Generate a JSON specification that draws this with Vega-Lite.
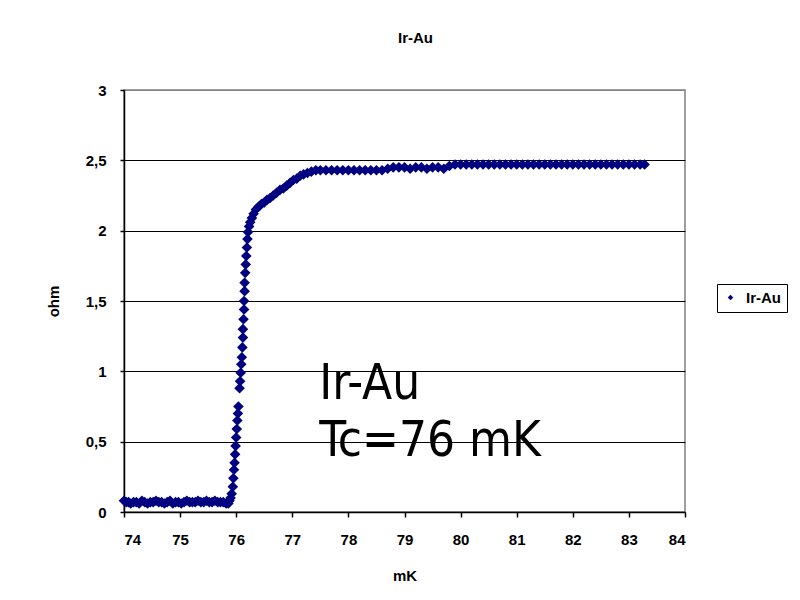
{
  "$schema": "https://vega.github.io/schema/vega-lite/v6.json",
  "width": 561,
  "height": 422,
  "autosize": {"type": "none"},
  "padding": {"left": 124, "top": 90, "right": 115, "bottom": 88},
  "background": "white",
  "title": {"text": "Ir-Au", "font": "Liberation Sans", "fontSize": 15, "fontWeight": "bold", "color": "black", "anchor": "middle", "offset": 37, "dx": 11},
  "config": {
    "view": {"stroke": "#808080", "strokeWidth": 1.5},
    "axis": {
      "labelFont": "Liberation Sans", "labelFontSize": 15, "labelFontWeight": "bold", "labelColor": "black",
      "titleFont": "Liberation Sans", "titleFontSize": 15, "titleFontWeight": "bold", "titleColor": "black",
      "domainColor": "black", "domainWidth": 1.5, "tickColor": "black", "tickWidth": 1.5
    }
  },
  "layer": [
    {
      "data": {"values": [
        {"T": 74.00, "R": 0.08, "s": "Ir-Au"}, {"T": 74.04, "R": 0.07, "s": "Ir-Au"}, {"T": 74.08, "R": 0.07, "s": "Ir-Au"}, {"T": 74.12, "R": 0.06, "s": "Ir-Au"},
        {"T": 74.17, "R": 0.07, "s": "Ir-Au"}, {"T": 74.22, "R": 0.07, "s": "Ir-Au"}, {"T": 74.27, "R": 0.06, "s": "Ir-Au"}, {"T": 74.32, "R": 0.08, "s": "Ir-Au"},
        {"T": 74.37, "R": 0.07, "s": "Ir-Au"}, {"T": 74.42, "R": 0.06, "s": "Ir-Au"}, {"T": 74.47, "R": 0.07, "s": "Ir-Au"}, {"T": 74.52, "R": 0.07, "s": "Ir-Au"},
        {"T": 74.57, "R": 0.08, "s": "Ir-Au"}, {"T": 74.62, "R": 0.07, "s": "Ir-Au"}, {"T": 74.67, "R": 0.07, "s": "Ir-Au"}, {"T": 74.72, "R": 0.06, "s": "Ir-Au"},
        {"T": 74.77, "R": 0.07, "s": "Ir-Au"}, {"T": 74.82, "R": 0.08, "s": "Ir-Au"}, {"T": 74.87, "R": 0.06, "s": "Ir-Au"}, {"T": 74.92, "R": 0.07, "s": "Ir-Au"},
        {"T": 74.97, "R": 0.07, "s": "Ir-Au"}, {"T": 75.02, "R": 0.06, "s": "Ir-Au"}, {"T": 75.07, "R": 0.07, "s": "Ir-Au"}, {"T": 75.12, "R": 0.08, "s": "Ir-Au"},
        {"T": 75.17, "R": 0.07, "s": "Ir-Au"}, {"T": 75.22, "R": 0.07, "s": "Ir-Au"}, {"T": 75.27, "R": 0.07, "s": "Ir-Au"}, {"T": 75.32, "R": 0.08, "s": "Ir-Au"},
        {"T": 75.37, "R": 0.07, "s": "Ir-Au"}, {"T": 75.42, "R": 0.07, "s": "Ir-Au"}, {"T": 75.47, "R": 0.08, "s": "Ir-Au"}, {"T": 75.52, "R": 0.07, "s": "Ir-Au"},
        {"T": 75.57, "R": 0.07, "s": "Ir-Au"}, {"T": 75.62, "R": 0.08, "s": "Ir-Au"}, {"T": 75.67, "R": 0.07, "s": "Ir-Au"}, {"T": 75.72, "R": 0.07, "s": "Ir-Au"},
        {"T": 75.77, "R": 0.07, "s": "Ir-Au"}, {"T": 75.82, "R": 0.06, "s": "Ir-Au"}, {"T": 75.86, "R": 0.06, "s": "Ir-Au"}, {"T": 75.88, "R": 0.08, "s": "Ir-Au"},
        {"T": 75.90, "R": 0.10, "s": "Ir-Au"}, {"T": 75.92, "R": 0.13, "s": "Ir-Au"}, {"T": 75.94, "R": 0.18, "s": "Ir-Au"}, {"T": 75.95, "R": 0.24, "s": "Ir-Au"},
        {"T": 75.96, "R": 0.30, "s": "Ir-Au"}, {"T": 75.97, "R": 0.35, "s": "Ir-Au"}, {"T": 75.98, "R": 0.41, "s": "Ir-Au"}, {"T": 75.99, "R": 0.47, "s": "Ir-Au"},
        {"T": 76.00, "R": 0.53, "s": "Ir-Au"}, {"T": 76.01, "R": 0.59, "s": "Ir-Au"}, {"T": 76.02, "R": 0.65, "s": "Ir-Au"}, {"T": 76.03, "R": 0.70, "s": "Ir-Au"},
        {"T": 76.04, "R": 0.75, "s": "Ir-Au"}, {"T": 76.06, "R": 0.88, "s": "Ir-Au"}, {"T": 76.07, "R": 0.93, "s": "Ir-Au"}, {"T": 76.08, "R": 0.99, "s": "Ir-Au"},
        {"T": 76.09, "R": 1.05, "s": "Ir-Au"}, {"T": 76.10, "R": 1.10, "s": "Ir-Au"}, {"T": 76.11, "R": 1.17, "s": "Ir-Au"}, {"T": 76.12, "R": 1.24, "s": "Ir-Au"},
        {"T": 76.12, "R": 1.30, "s": "Ir-Au"}, {"T": 76.13, "R": 1.37, "s": "Ir-Au"}, {"T": 76.14, "R": 1.44, "s": "Ir-Au"}, {"T": 76.14, "R": 1.50, "s": "Ir-Au"},
        {"T": 76.15, "R": 1.57, "s": "Ir-Au"}, {"T": 76.15, "R": 1.63, "s": "Ir-Au"}, {"T": 76.16, "R": 1.70, "s": "Ir-Au"}, {"T": 76.17, "R": 1.76, "s": "Ir-Au"},
        {"T": 76.18, "R": 1.82, "s": "Ir-Au"}, {"T": 76.19, "R": 1.88, "s": "Ir-Au"}, {"T": 76.20, "R": 1.94, "s": "Ir-Au"}, {"T": 76.21, "R": 1.99, "s": "Ir-Au"},
        {"T": 76.23, "R": 2.03, "s": "Ir-Au"}, {"T": 76.25, "R": 2.06, "s": "Ir-Au"}, {"T": 76.28, "R": 2.09, "s": "Ir-Au"}, {"T": 76.31, "R": 2.12, "s": "Ir-Au"},
        {"T": 76.35, "R": 2.15, "s": "Ir-Au"}, {"T": 76.40, "R": 2.17, "s": "Ir-Au"}, {"T": 76.45, "R": 2.19, "s": "Ir-Au"}, {"T": 76.50, "R": 2.20, "s": "Ir-Au"},
        {"T": 76.55, "R": 2.22, "s": "Ir-Au"}, {"T": 76.60, "R": 2.23, "s": "Ir-Au"}, {"T": 76.66, "R": 2.25, "s": "Ir-Au"}, {"T": 76.72, "R": 2.27, "s": "Ir-Au"},
        {"T": 76.78, "R": 2.29, "s": "Ir-Au"}, {"T": 76.84, "R": 2.30, "s": "Ir-Au"}, {"T": 76.90, "R": 2.32, "s": "Ir-Au"}, {"T": 76.96, "R": 2.34, "s": "Ir-Au"},
        {"T": 77.02, "R": 2.36, "s": "Ir-Au"}, {"T": 77.08, "R": 2.37, "s": "Ir-Au"}, {"T": 77.14, "R": 2.39, "s": "Ir-Au"}, {"T": 77.20, "R": 2.40, "s": "Ir-Au"},
        {"T": 77.27, "R": 2.41, "s": "Ir-Au"}, {"T": 77.34, "R": 2.42, "s": "Ir-Au"}, {"T": 77.42, "R": 2.43, "s": "Ir-Au"}, {"T": 77.50, "R": 2.43, "s": "Ir-Au"},
        {"T": 77.60, "R": 2.43, "s": "Ir-Au"}, {"T": 77.70, "R": 2.43, "s": "Ir-Au"}, {"T": 77.80, "R": 2.43, "s": "Ir-Au"}, {"T": 77.90, "R": 2.43, "s": "Ir-Au"},
        {"T": 78.00, "R": 2.43, "s": "Ir-Au"}, {"T": 78.10, "R": 2.43, "s": "Ir-Au"}, {"T": 78.20, "R": 2.43, "s": "Ir-Au"}, {"T": 78.30, "R": 2.43, "s": "Ir-Au"},
        {"T": 78.40, "R": 2.43, "s": "Ir-Au"}, {"T": 78.50, "R": 2.43, "s": "Ir-Au"}, {"T": 78.60, "R": 2.43, "s": "Ir-Au"}, {"T": 78.70, "R": 2.44, "s": "Ir-Au"},
        {"T": 78.80, "R": 2.45, "s": "Ir-Au"}, {"T": 78.90, "R": 2.45, "s": "Ir-Au"}, {"T": 79.00, "R": 2.45, "s": "Ir-Au"}, {"T": 79.10, "R": 2.44, "s": "Ir-Au"},
        {"T": 79.20, "R": 2.45, "s": "Ir-Au"}, {"T": 79.30, "R": 2.45, "s": "Ir-Au"}, {"T": 79.40, "R": 2.44, "s": "Ir-Au"}, {"T": 79.50, "R": 2.45, "s": "Ir-Au"},
        {"T": 79.60, "R": 2.45, "s": "Ir-Au"}, {"T": 79.70, "R": 2.44, "s": "Ir-Au"}, {"T": 79.80, "R": 2.46, "s": "Ir-Au"}, {"T": 79.90, "R": 2.47, "s": "Ir-Au"},
        {"T": 80.00, "R": 2.47, "s": "Ir-Au"}, {"T": 80.10, "R": 2.47, "s": "Ir-Au"}, {"T": 80.20, "R": 2.47, "s": "Ir-Au"}, {"T": 80.30, "R": 2.47, "s": "Ir-Au"},
        {"T": 80.40, "R": 2.47, "s": "Ir-Au"}, {"T": 80.50, "R": 2.47, "s": "Ir-Au"}, {"T": 80.60, "R": 2.47, "s": "Ir-Au"}, {"T": 80.70, "R": 2.47, "s": "Ir-Au"},
        {"T": 80.80, "R": 2.47, "s": "Ir-Au"}, {"T": 80.90, "R": 2.47, "s": "Ir-Au"}, {"T": 81.00, "R": 2.47, "s": "Ir-Au"}, {"T": 81.10, "R": 2.47, "s": "Ir-Au"},
        {"T": 81.20, "R": 2.47, "s": "Ir-Au"}, {"T": 81.30, "R": 2.47, "s": "Ir-Au"}, {"T": 81.40, "R": 2.47, "s": "Ir-Au"}, {"T": 81.50, "R": 2.47, "s": "Ir-Au"},
        {"T": 81.60, "R": 2.47, "s": "Ir-Au"}, {"T": 81.70, "R": 2.47, "s": "Ir-Au"}, {"T": 81.80, "R": 2.47, "s": "Ir-Au"}, {"T": 81.90, "R": 2.47, "s": "Ir-Au"},
        {"T": 82.00, "R": 2.47, "s": "Ir-Au"}, {"T": 82.10, "R": 2.47, "s": "Ir-Au"}, {"T": 82.20, "R": 2.47, "s": "Ir-Au"}, {"T": 82.30, "R": 2.47, "s": "Ir-Au"},
        {"T": 82.40, "R": 2.47, "s": "Ir-Au"}, {"T": 82.50, "R": 2.47, "s": "Ir-Au"}, {"T": 82.60, "R": 2.47, "s": "Ir-Au"}, {"T": 82.70, "R": 2.47, "s": "Ir-Au"},
        {"T": 82.80, "R": 2.47, "s": "Ir-Au"}, {"T": 82.90, "R": 2.47, "s": "Ir-Au"}, {"T": 83.00, "R": 2.47, "s": "Ir-Au"}, {"T": 83.10, "R": 2.47, "s": "Ir-Au"},
        {"T": 83.20, "R": 2.47, "s": "Ir-Au"}, {"T": 83.28, "R": 2.47, "s": "Ir-Au"}
      ]},
      "mark": {"type": "point", "shape": "diamond", "filled": true, "size": 50, "opacity": 1, "stroke": "#000080", "strokeWidth": 2.5},
      "encoding": {
        "x": {"field": "T", "type": "quantitative",
          "scale": {"domain": [74, 84], "nice": false, "zero": false},
          "axis": {"values": [74, 75, 76, 77, 78, 79, 80, 81, 82, 83, 84], "format": "d", "title": "mK", "grid": false, "tickSize": 5, "labelPadding": 15, "titlePadding": 21}},
        "y": {"field": "R", "type": "quantitative",
          "scale": {"domain": [0, 3], "nice": false},
          "axis": {"values": [0, 0.5, 1, 1.5, 2, 2.5, 3], "title": "ohm", "grid": true,
            "gridColor": {"condition": {"test": "datum.value === 3", "value": "#808080"}, "value": "black"},
            "gridWidth": 1, "tickSize": 4, "labelPadding": 14, "titlePadding": 24,
            "labelExpr": "replace(format(datum.value, '~g'), '.', ',')"}},
        "color": {"field": "s", "type": "nominal",
          "scale": {"range": ["#000080"]},
          "legend": {"title": null, "orient": "none", "legendX": 593, "legendY": 194,
            "strokeColor": "black", "padding": 6, "symbolType": "diamond", "symbolSize": 30, "symbolStrokeWidth": 0, "labelOffset": 8,
            "labelFont": "Liberation Sans", "labelFontSize": 15, "labelFontWeight": "bold", "labelColor": "black", "fillColor": "white"}}
      }
    },
    {
      "data": {"values": [{"label": "Ir-Au"}]},
      "mark": {"type": "text", "align": "left", "baseline": "alphabetic", "font": "DejaVu Sans Condensed, DejaVu Sans", "fontSize": 49, "color": "black"},
      "encoding": {"x": {"datum": 77.48}, "y": {"datum": 0.8}, "text": {"field": "label"}}
    },
    {
      "data": {"values": [{"label": "Tc=76 mK"}]},
      "mark": {"type": "text", "align": "left", "baseline": "alphabetic", "font": "DejaVu Sans Condensed, DejaVu Sans", "fontSize": 49, "color": "black"},
      "encoding": {"x": {"datum": 77.48}, "y": {"datum": 0.4}, "text": {"field": "label"}}
    }
  ]
}
